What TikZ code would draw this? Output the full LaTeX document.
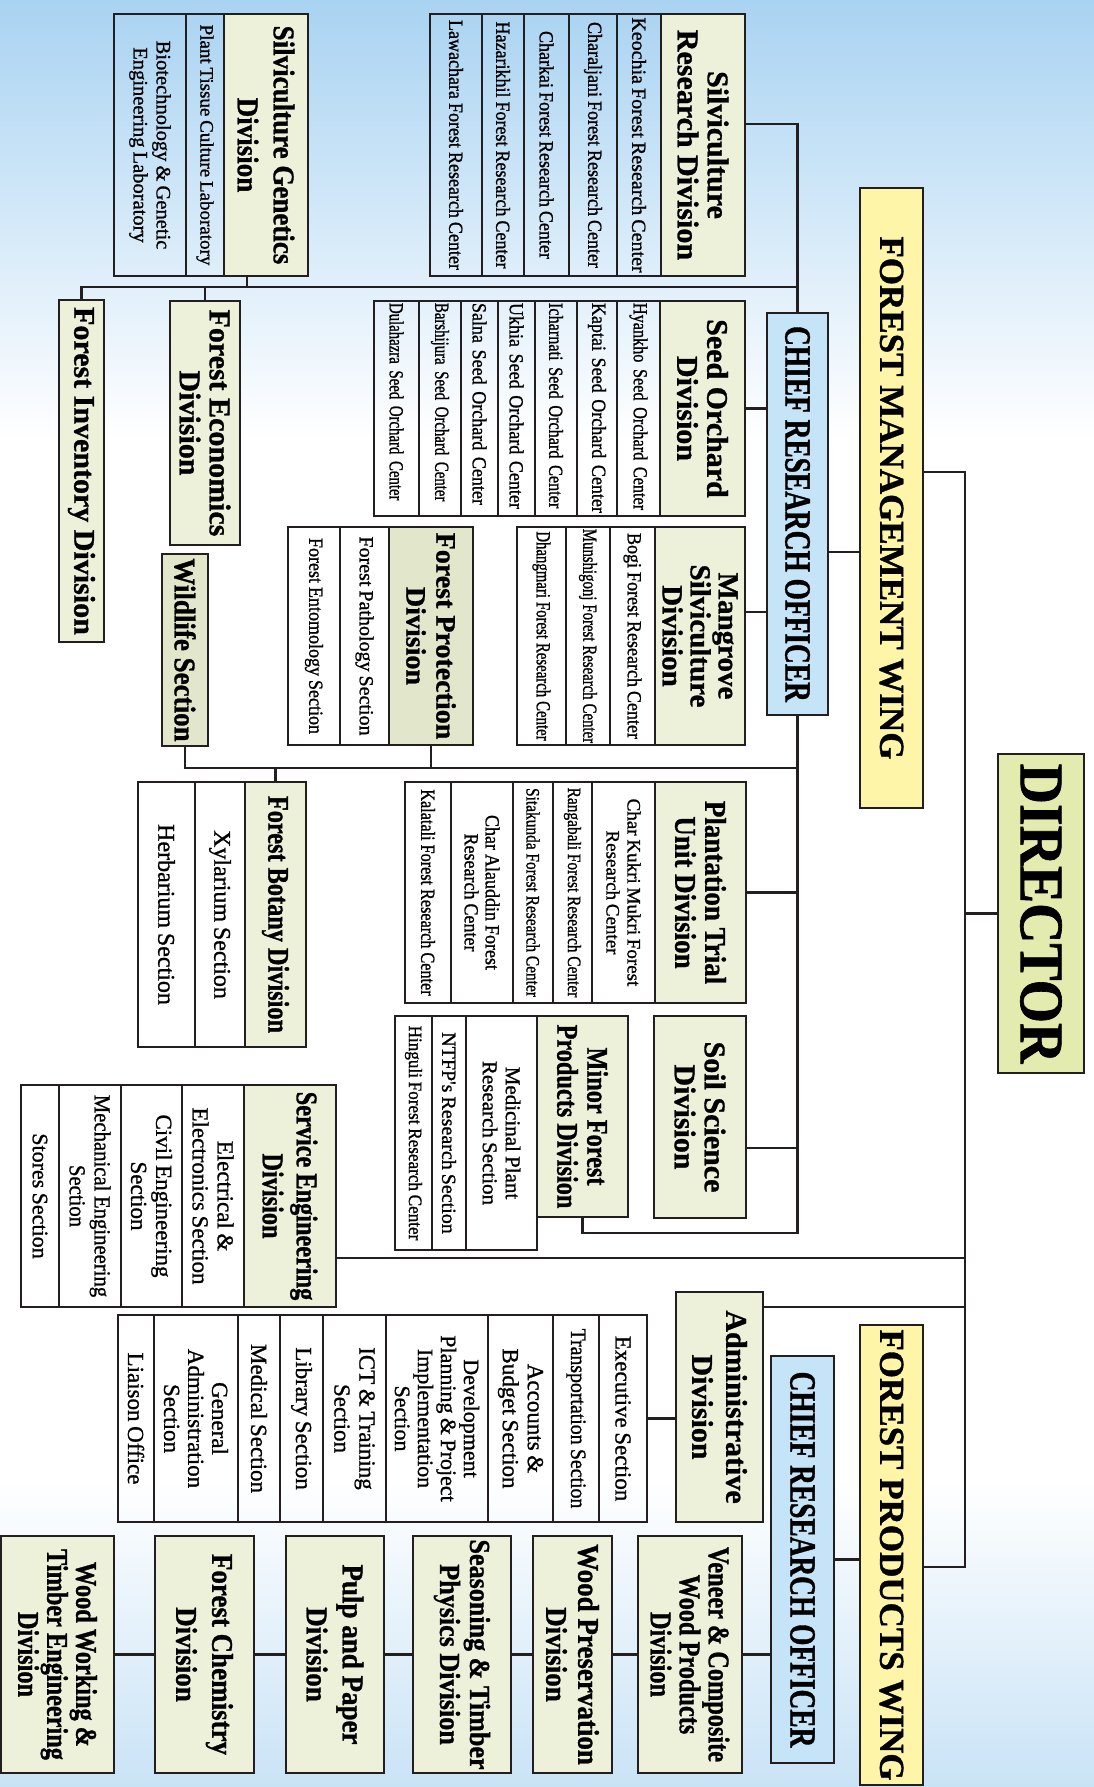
\documentclass[tikz,border=0pt]{standalone}
\usepackage{fontspec}
\setmainfont{Liberation Serif}
\newfontfamily\sqA{Liberation Serif}[FakeBold=1]
\newfontfamily\sqB{Liberation Serif}[FakeStretch=0.9, FakeBold=1]
\newfontfamily\sqC{Liberation Serif}[FakeStretch=0.81, FakeBold=1]
\newfontfamily\sqD{Liberation Serif}[FakeStretch=0.74, FakeBold=1]
\usetikzlibrary{calc}

\newcommand\hfont[2]{#1\bfseries\fontsize{#2}{#2}\selectfont}
\newcommand\rfont[3]{#1\fontsize{#2}{#3}\selectfont\spaceskip=\dimexpr #2pt/5\relax}

\definecolor{ink}{HTML}{231F20}
\definecolor{dirfill}{HTML}{E4EBAF}
\definecolor{wingfill}{HTML}{FFF5A8}
\definecolor{crofill}{HTML}{C6E4F8}
\definecolor{divfill}{HTML}{EEF1DA}
\definecolor{protfill}{HTML}{E2E6CB}
\definecolor{skytop}{HTML}{A9D3F2}
\definecolor{skybot}{HTML}{C9E3F6}

\tikzset{
  unitbox/.style={draw=ink, line width=2.8pt, anchor=north west, inner sep=1pt, outer sep=0pt, align=center},
  dirbox/.style={unitbox, fill=dirfill, font={\hfont\sqB{62}}},
  wingbox/.style={unitbox, fill=wingfill, font={\hfont\sqA{35}}},
  crobox/.style={unitbox, fill=crofill, font={\hfont\sqD{37}}},
  divbox/.style={unitbox, fill=divfill, font={\hfont\sqA{30}}},
  secbox/.style={unitbox, font={\rfont\sqA{20}{22}}},
  secleft/.style={secbox, text width=211pt, align=left},
  link/.style={draw=ink, line width=2.6pt, line cap=rect},
}

\begin{document}
\begin{tikzpicture}[x=1pt,y=1pt]
\useasboundingbox (0,0) rectangle (1094,-1787);
% sky behind the chart
\fill[white] (0,0) rectangle (1094,-1787);
\shade[top color=skytop, bottom color=white] (0,0) rectangle (1094,-440);
\shade[top color=white, bottom color=skybot] (0,-1480) rectangle (1094,-1787);

% chart is laid out sideways
\begin{scope}[rotate=-90, transform shape]
\node[dirbox, minimum width=319pt, minimum height=86pt] (dir) at (754,1084) {DIRECTOR};
\node[wingbox, minimum width=620pt, minimum height=63pt] (fmw) at (188,923) {FOREST MANAGEMENT WING};
\node[wingbox, minimum width=460pt, minimum height=63pt] (fpw) at (1325,923) {FOREST PRODUCTS WING};
\node[crobox, minimum width=402pt, minimum height=61pt] (croA) at (313,828) {CHIEF RESEARCH OFFICER};
\node[crobox, minimum width=407pt, minimum height=63pt] (croB) at (1356,834) {CHIEF RESEARCH OFFICER};

% silviculture research
\begin{scope}[nodes={minimum width=262pt}]
\node[divbox, minimum height=84pt] (silvres) at (14,745) {Silviculture\\Research Division};
\node[secbox, minimum height=44pt] (keochia) at (14,661) {Keochia Forest Research Center};
\node[secbox, font={\rfont\sqB{20}{22}}, minimum height=48pt] (charaljani) at (14,617) {Charaljani Forest Research Center};
\node[secbox, font={\rfont\sqB{20}{22}}, minimum height=45pt] (charkai) at (14,569) {Charkai Forest Research Center};
\node[secbox, font={\rfont\sqB{20}{22}}, minimum height=42pt] (hazarikhil) at (14,524) {Hazarikhil Forest Research Center};
\node[secbox, font={\rfont\sqB{20}{22}}, minimum height=52pt] (lawachara) at (14,482) {Lawachara Forest Research Center};
\end{scope}

% seed orchard
\begin{scope}[nodes={minimum width=215pt}]
\node[divbox, minimum height=85pt] (seedorch) at (301,745) {Seed Orchard\\Division};
\node[secleft, font={\rfont\sqC{20}{22}}, minimum height=43pt] (hyankho) at (301,660) {Hyankho Seed Orchard Center};
\node[secleft, font={\rfont\sqB{20}{22}}, minimum height=40pt] (kaptai) at (301,617) {Kaptai Seed Orchard Center};
\node[secleft, font={\rfont\sqC{20}{22}}, minimum height=42pt] (icharnati) at (301,577) {Icharnati Seed Orchard Center};
\node[secleft, font={\rfont\sqB{20}{22}}, minimum height=37pt] (ukhia) at (301,535) {Ukhia Seed Orchard Center};
\node[secleft, font={\rfont\sqB{20}{22}}, minimum height=37pt] (salna) at (301,498) {Salna Seed Orchard Center};
\node[secleft, font={\rfont\sqD{20}{22}}, minimum height=42pt] (barshijura) at (301,461) {Barshijura Seed Orchard Center};
\node[secleft, font={\rfont\sqD{20}{22}}, minimum height=45pt] (dulahazra) at (301,419) {Dulahazra Seed Orchard Center};
\end{scope}

% mangrove silviculture
\begin{scope}[nodes={minimum width=218pt}]
\node[divbox, font={\bfseries\sqA\fontsize{29}{28}\selectfont}, minimum height=90pt] (mangrove) at (527,745) {Mangrove\\Silviculture\\Division};
\node[secbox, font={\rfont\sqB{20}{22}}, minimum height=45pt] (bogi) at (527,655) {Bogi Forest Research Center};
\node[secbox, font={\rfont\sqD{20}{22}}, minimum height=44pt] (munshigonj) at (527,610) {Munshigonj Forest Research Center};
\node[secbox, font={\rfont\sqD{20}{22}}, minimum height=49pt] (dhangmari) at (527,566) {Dhangmari Forest Research Center};
\end{scope}

% forest protection
\begin{scope}[nodes={minimum width=218pt}]
\node[divbox, fill=protfill, font={\bfseries\sqA\fontsize{28}{30}\selectfont}, minimum height=84pt] (forprot) at (527,473) {Forest Protection\\Division};
\node[secbox, minimum height=49pt] (pathology) at (527,389) {Forest Pathology Section};
\node[secbox, font={\rfont\sqB{20}{22}}, minimum height=52pt] (entomology) at (527,340) {Forest Entomology Section};
\end{scope}

% plantation trial unit
\begin{scope}[nodes={minimum width=221pt}]
\node[divbox, font={\bfseries\sqB\fontsize{30}{30}\selectfont}, minimum height=91pt] (plantation) at (782,746) {Plantation Trial\\Unit Division};
\node[secbox, font={\rfont\sqA{19}{21}}, minimum height=63pt] (charkukri) at (782,655) {Char Kukri Mukri Forest\\Research Center};
\node[secbox, font={\rfont\sqC{19}{21}}, minimum height=39pt] (rangabali) at (782,592) {Rangabali Forest Research Center};
\node[secbox, font={\rfont\sqC{19}{21}}, minimum height=40pt] (sitakunda) at (782,553) {Sitakunda Forest Research Center};
\node[secbox, font={\rfont\sqB{20}{21}}, minimum height=62pt] (charalauddin) at (782,513) {Char Alauddin Forest\\Research Center};
\node[secbox, font={\rfont\sqC{20}{22}}, minimum height=46pt] (kalatali) at (782,451) {Kalatali Forest Research Center};
\end{scope}

% soil science and minor forest products
\node[divbox, minimum width=202pt, minimum height=92pt] (soil) at (1016,746) {Soil Science\\Division};
\node[divbox, font={\hfont\sqC{30}}, minimum width=201pt, minimum height=91pt] (minor) at (1016,628) {Minor Forest\\Products Division};
\begin{scope}[nodes={minimum width=234pt}]
\node[secbox, font={\rfont\sqA{21}{23}}, minimum height=71pt] (medicinal) at (1016,537) {Medicinal Plant\\Research Section};
\node[secbox, minimum height=34pt] (ntfp) at (1016,466) {NTFP's Research Section};
\node[secbox, font={\rfont\sqB{19}{21}}, minimum height=37pt] (hinguli) at (1016,432) {Hinguli Forest Research Center};
\end{scope}

% forest botany
\begin{scope}[nodes={minimum width=265pt}]
\node[divbox, font={\hfont\sqC{30}}, minimum height=61pt] (botany) at (782,306) {Forest Botany Division};
\node[secbox, font={\rfont\sqA{24}{26}}, minimum height=50pt] (xylarium) at (782,245) {Xylarium Section};
\node[secbox, font={\rfont\sqA{24}{26}}, minimum height=57pt] (herbarium) at (782,195) {Herbarium Section};
\end{scope}

% single divisions on the left
\node[divbox, fill=protfill, font={\hfont\sqB{30}}, minimum width=192pt, minimum height=46pt] (wildlife) at (554,208) {Wildlife Section};
\node[divbox, minimum width=244pt, minimum height=70pt] (economics) at (301,240) {Forest Economics\\Division};
\node[divbox, minimum width=342pt, minimum height=45pt] (inventory) at (300,104) {Forest Inventory Division};

% silviculture genetics
\begin{scope}[nodes={minimum width=262pt}]
\node[divbox, font={\bfseries\sqB\fontsize{30}{36}\selectfont}, minimum height=84pt] (silvgen) at (14,308) {Silviculture Genetics\\Division};
\node[secbox, font={\rfont\sqA{19}{21}}, minimum height=38pt] (planttissue) at (14,224) {Plant Tissue Culture Laboratory};
\node[secbox, font={\rfont\sqA{20.5}{23}}, minimum height=72pt] (biotech) at (14,186) {Biotechnology \& Genetic\\Engineering Laboratory};
\end{scope}

% service engineering
\begin{scope}[nodes={minimum width=222pt}]
\node[divbox, font={\bfseries\sqC\fontsize{30}{34}\selectfont}, minimum height=92pt] (serveng) at (1085,336) {Service Engineering\\Division};
\node[secbox, font={\rfont\sqA{23}{25}}, minimum height=62pt] (electrical) at (1085,244) {Electrical \&\\Electronics Section};
\node[secbox, font={\rfont\sqA{23}{25}}, minimum height=61pt] (civil) at (1085,182) {Civil Engineering\\Section};
\node[secbox, font={\rfont\sqB{23}{25}}, minimum height=62pt] (mechanical) at (1085,121) {Mechanical Engineering\\Section};
\node[secbox, font={\rfont\sqA{22}{24}}, minimum height=38pt] (stores) at (1085,59) {Stores Section};
\end{scope}

% administrative
\node[divbox, font={\bfseries\sqA\fontsize{30}{34}\selectfont}, minimum width=230pt, minimum height=87pt] (admin) at (1292,763) {Administrative\\Division};
\begin{scope}[nodes={minimum width=207pt}]
\node[secbox, font={\rfont\sqA{23}{25}}, minimum height=48pt] (executive) at (1315,647) {Executive Section};
\node[secbox, font={\rfont\sqB{22}{24}}, minimum height=46pt] (transport) at (1315,599) {Transportation Section};
\node[secbox, font={\rfont\sqA{23}{25}}, minimum height=65pt] (accounts) at (1315,553) {Accounts \&\\Budget Section};
\node[secbox, font={\rfont\sqA{22}{23}}, minimum height=102pt] (development) at (1315,488) {Development\\Planning \& Project\\Implementation\\Section};
\node[secbox, font={\rfont\sqA{23}{25}}, minimum height=63pt] (ict) at (1315,386) {ICT \& Training\\Section};
\node[secbox, font={\rfont\sqA{23}{25}}, minimum height=43pt] (library) at (1315,323) {Library Section};
\node[secbox, font={\rfont\sqA{23}{25}}, minimum height=42pt] (medical) at (1315,280) {Medical Section};
\node[secbox, font={\rfont\sqA{23}{24}}, minimum height=84pt] (genadmin) at (1315,238) {General\\Administration\\Section};
\node[secbox, font={\rfont\sqA{23}{25}}, minimum height=36pt] (liaison) at (1315,154) {Liaison Office};
\end{scope}

% forest products divisions
\begin{scope}[nodes={minimum width=237pt}]
\node[divbox, font={\bfseries\sqC\fontsize{30}{29}\selectfont}, minimum height=104pt] (veneer) at (1536,742) {Veneer \& Composite\\Wood Products\\Division};
\node[divbox, font={\bfseries\sqB\fontsize{30}{32}\selectfont}, minimum height=79pt] (woodpres) at (1536,612) {Wood Preservation\\Division};
\node[divbox, font={\bfseries\sqB\fontsize{29}{30}\selectfont}, minimum height=98pt] (seasoning) at (1536,511) {Seasoning \& Timber\\Physics Division};
\node[divbox, font={\bfseries\sqB\fontsize{30}{36}\selectfont}, minimum height=98pt] (pulp) at (1536,384) {Pulp and Paper\\Division};
\node[divbox, font={\bfseries\sqB\fontsize{30}{36}\selectfont}, minimum height=99pt] (chemistry) at (1536,254) {Forest Chemistry\\Division};
\node[divbox, font={\bfseries\sqC\fontsize{30}{29}\selectfont}, minimum height=113pt] (woodwork) at (1536,114) {Wood Working \&\\Timber Engineering\\Division};
\end{scope}

% links from the director
\coordinate (trunkT) at (472,965);
\coordinate (trunkB) at (1567,965);
\coordinate (trunkS) at (1258,965);
\coordinate (trunkA) at (1307,965);
\draw[link] (trunkT |- fmw.north) -- (trunkT) -- (trunkB) -- (trunkB |- fpw.north);
\draw[link] (dir.south) -- (dir.south |- trunkT);
\draw[link] (trunkS) -- (trunkS |- serveng.north);
\draw[link] (trunkA) -- (trunkA |- admin.north);

% forest management wing links
\coordinate (fmwlink) at ($(croA.north)+(38,0)$);
\draw[link] (fmwlink) -- (fmwlink |- fmw.south);
\draw[link] (croA.west) -| ($(silvres.north)+(-21,0)$);
\coordinate (railW) at ($(croA.west)+(-26,0)$);
\draw[link] (railW) |- (inventory.west);
\draw[link] (economics.west) -- (economics.west -| railW);
\coordinate (genlink) at ($(silvgen.east)+(0,-19)$);
\draw[link] (genlink) -- (genlink -| railW);
\draw[link] (seedorch.north) -- (seedorch.north |- croA.south);
\coordinate (manglink) at ($(mangrove.north)+(-24,0)$);
\draw[link] (manglink) -- (manglink |- croA.south);
\draw[link] (croA.east) -- ($(croA.east)+(518,0)$) |- (minor.east);
\coordinate (railE) at ($(croA.east)+(53,0)$);
\draw[link] (railE) |- (wildlife.east);
\draw[link] (forprot.east) -- (forprot.east -| railE);
\draw[link] (botany.west) -- (botany.west -| railE);
\draw[link] (plantation.north) -- (plantation.north |- croA.east);
\coordinate (soillink) at ($(soil.north)+(31,0)$);
\draw[link] (soillink) -- (soillink |- croA.east);
\draw[link] (executive.north) -- (executive.north |- admin.south);

% forest products wing links
\draw[link] (croB.north) -- (croB.north |- fpw.south);
\draw[link] (veneer.north) -- (veneer.north |- croB.south);
\draw[link] (veneer.south) -- (woodpres.north);
\draw[link] (woodpres.south) -- (seasoning.north);
\draw[link] (seasoning.south) -- (pulp.north);
\draw[link] (pulp.south) -- (chemistry.north);
\draw[link] (chemistry.south) -- (woodwork.north);
\end{scope}
\end{tikzpicture}
\end{document}
